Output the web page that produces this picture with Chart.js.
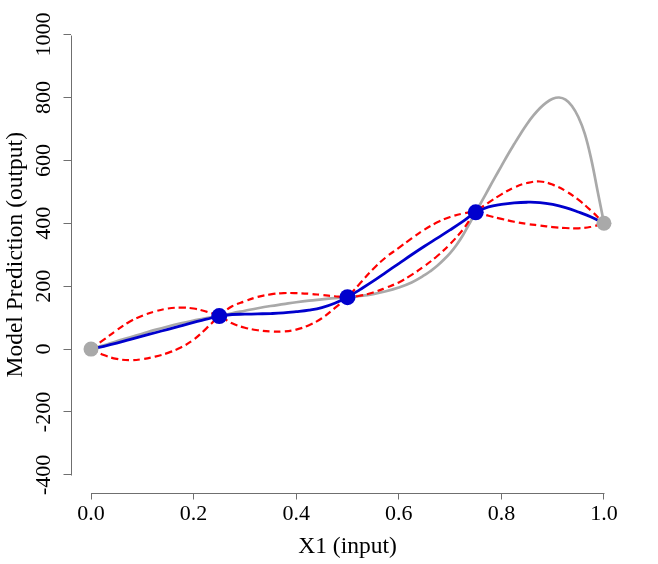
<!DOCTYPE html>
<html><head><meta charset="utf-8">
<script src="https://cdn.jsdelivr.net/npm/chart.js@4/dist/chart.umd.min.js"></script>
<style>html,body{margin:0;padding:0;background:#fff;}#wrap{width:658px;height:564px;}</style>
</head><body><div id="wrap"><canvas id="c" width="658" height="564"></canvas></div>
<script>
// ---- data ----
const xGrid = [0, 0.025, 0.05, 0.075, 0.1, 0.125, 0.15, 0.175, 0.2, 0.225,
  0.25, 0.275, 0.3, 0.325, 0.35, 0.375, 0.4, 0.425, 0.45, 0.475,
  0.5, 0.525, 0.55, 0.575, 0.6, 0.625, 0.65, 0.675, 0.7, 0.725,
  0.75, 0.775, 0.8, 0.825, 0.85, 0.875, 0.9, 0.925, 0.95, 0.975, 1.0];
const trueX = [0, 0.025, 0.05, 0.075, 0.1, 0.125, 0.15, 0.175, 0.2, 0.225,
  0.25, 0.275, 0.3, 0.325, 0.35, 0.375, 0.4, 0.425, 0.45, 0.475,
  0.5, 0.525, 0.55, 0.575, 0.6, 0.625, 0.65, 0.6625, 0.675, 0.6875,
  0.7, 0.7125, 0.725, 0.7375, 0.75, 0.7625, 0.775, 0.7875, 0.8, 0.8125,
  0.825, 0.8375, 0.85, 0.8625, 0.875, 0.8875, 0.9, 0.9125, 0.925, 0.9375,
  0.95, 0.9625, 0.975, 0.9875, 1.0];
const trueFunction = [0, 12, 25, 37, 49, 61, 72, 82, 91, 99,
  105, 114, 122, 130, 137, 143, 149, 154, 158, 162,
  165, 169, 175, 184, 196, 212, 235, 249, 265, 284,
  305, 331, 362, 398, 435, 472, 509, 546, 582, 618,
  652, 685, 716, 743, 766, 784, 796, 800, 793, 773,
  738, 685, 605, 503, 400];
const meanPrediction = [0, 9, 19, 30, 41, 52, 63, 74, 85, 95,
  105, 110, 111, 112, 113, 115, 119, 124, 132, 146,
  165, 190, 216, 244, 272, 300, 327, 353, 379, 406,
  435, 452, 460, 465, 467, 466, 460, 450, 436, 420, 400];
const bandCurveA = [0, 30, 60, 87, 106, 120, 129, 132, 129, 119,
  105, 82, 68, 60, 56, 56, 62, 76, 98, 130,
  165, 210, 255, 292, 322, 352, 380, 403, 420, 431,
  435, 424, 414, 405, 398, 393, 388, 385, 384, 389, 400];
const bandCurveB = [0, -19, -31, -35, -32, -24, -12, 5, 30, 66,
  105, 136, 152, 166, 174, 178, 178, 176, 172, 168,
  165, 170, 180, 195, 212, 236, 264, 296, 334, 380,
  435, 466, 492, 514, 528, 533, 523, 503, 475, 440, 400];
const endPointsX = [0, 1];
const endPointsY = [0, 400];
const observedX = [0.25, 0.5, 0.75];
const observedY = [105, 165, 435];
const xTickValues = [0, 0.2, 0.4, 0.6, 0.8, 1.0];
const xTickLabels = ['0.0', '0.2', '0.4', '0.6', '0.8', '1.0'];
const yTickValues = [-400, -200, 0, 200, 400, 600, 800, 1000];
const yTickLabels = ['-400', '-200', '0', '200', '400', '600', '800', '1000'];

// ---- style ----
const FAMILY = "'Liberation Serif', 'DejaVu Serif', serif";
const TICK_FONT = {family: FAMILY, size: 22};
const TITLE_FONT = {family: FAMILY, size: 23.5};
const AXIS = '#6f6f6f';
const pts = (xs, ys) => xs.map((x, i) => ({x, y: ys[i]}));

const rAxisLines = {
  id: 'rAxisLines',
  beforeDatasetsDraw(chart) {
    const {ctx, chartArea, scales: {x, y}} = chart;
    ctx.save();
    ctx.strokeStyle = AXIS; ctx.lineWidth = 1;
    ctx.beginPath();
    const yb = Math.round(chartArea.bottom) + 0.5;
    ctx.moveTo(Math.round(x.getPixelForValue(xTickValues[0])) + 0.5, yb);
    ctx.lineTo(Math.round(x.getPixelForValue(xTickValues[xTickValues.length - 1])) + 0.5, yb);
    const xl = Math.round(chartArea.left) + 0.5;
    ctx.moveTo(xl, Math.round(y.getPixelForValue(yTickValues[0])) + 0.5);
    ctx.lineTo(xl, Math.round(y.getPixelForValue(yTickValues[yTickValues.length - 1])) + 0.5);
    ctx.stroke();
    ctx.restore();
  }
};

new Chart(document.getElementById('c'), {
  type: 'line',
  data: {
    datasets: [
      {data: pts(trueX, trueFunction), borderColor: '#A9A9A9', borderWidth: 2.7, pointRadius: 0, tension: 0.4, order: 6},
      {data: pts(xGrid, meanPrediction), borderColor: '#0000CD', borderWidth: 2.8, pointRadius: 0, tension: 0.4, order: 5},
      {data: pts(xGrid, bandCurveA), borderColor: '#FF0000', borderWidth: 2.2, borderDash: [7, 4], pointRadius: 0, tension: 0.4, order: 4},
      {data: pts(xGrid, bandCurveB), borderColor: '#FF0000', borderWidth: 2.2, borderDash: [7, 4], pointRadius: 0, tension: 0.4, order: 3},
      {data: pts(endPointsX, endPointsY), showLine: false, pointRadius: 7.5, pointBorderWidth: 0, pointBackgroundColor: '#A9A9A9', order: 2},
      {data: pts(observedX, observedY), showLine: false, pointRadius: 8, pointBorderWidth: 0, pointBackgroundColor: '#0000CD', order: 1}
    ]
  },
  options: {
    responsive: false,
    animation: false,
    events: [],
    layout: {padding: {top: 17, right: 33.5, left: 0, bottom: 0}},
    plugins: {legend: {display: false}, tooltip: {enabled: false}},
    scales: {
      x: {
        type: 'linear', min: -0.04, max: 1.04,
        afterBuildTicks: s => { s.ticks = xTickValues.map(v => ({value: v})); },
        afterFit: s => { s.height = 71.5; },
        border: {display: false},
        grid: {drawOnChartArea: false, drawTicks: true, tickLength: 7, color: AXIS, lineWidth: 1},
        ticks: {autoSkip: false, minRotation: 0, maxRotation: 0, padding: 2, color: '#000', font: TICK_FONT,
          callback: (v, i) => xTickLabels[i]},
        title: {display: true, text: 'X1 (input)', color: '#000', font: TITLE_FONT, padding: {top: 0, bottom: 3}}
      },
      y: {
        type: 'linear', min: -456, max: 1056,
        afterBuildTicks: s => { s.ticks = yTickValues.map(v => ({value: v})); },
        afterFit: s => { s.width = 70.5; },
        border: {display: false},
        grid: {drawOnChartArea: false, drawTicks: true, tickLength: 7, color: AXIS, lineWidth: 1},
        ticks: {autoSkip: false, minRotation: 90, maxRotation: 90, crossAlign: 'center', padding: -2.5, color: '#000', font: TICK_FONT,
          callback: (v, i) => yTickLabels[i]},
        title: {display: true, text: 'Model Prediction (output)', color: '#000', font: TITLE_FONT, padding: {top: 2, bottom: 0}}
      }
    }
  },
  plugins: [rAxisLines]
});
</script></body></html>
